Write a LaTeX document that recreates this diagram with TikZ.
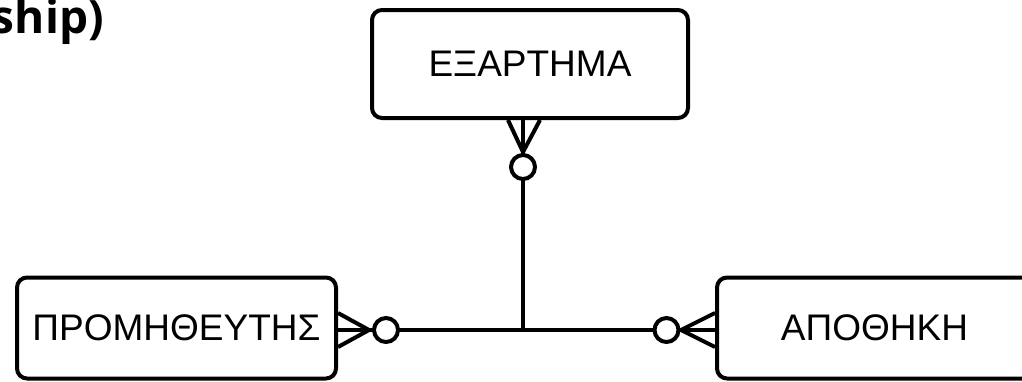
\documentclass[tikz,border=0pt]{standalone}
\usepackage{fontspec}
\setmainfont{Liberation Sans}
\newfontfamily\headfont{Open Sans}
\usetikzlibrary{calc}
\begin{document}
\begin{tikzpicture}[x=1pt,y=-1pt,
  entity/.style={draw,line width=4pt,rounded corners=10pt,inner sep=0pt,
    font=\fontsize{37}{40}\selectfont},
  conn/.style={line width=4pt},
  ring/.style={circle,draw,line width=4pt,fill=white,minimum size=24pt,inner sep=0pt}]
  \useasboundingbox (0,0) rectangle (1022,381);
  \clip (0,0) rectangle (1022,381);

  % title fragment
  \node[anchor=base east,inner sep=0pt,font=\headfont\bfseries\fontsize{46}{50}\selectfont]
    (title) at (104,33) {ship)};

  % entities
  \node[entity,minimum width=316pt,minimum height=108pt] (e) at (530,64) {ΕΞΑΡΤΗΜΑ};
  \node[entity,minimum width=319pt,minimum height=101pt] (p) at (176.5,328) {ΠΡΟΜΗΘΕΥΤΗΣ};
  \node[entity,minimum width=315pt,minimum height=101pt] (a) at (874.5,328) {ΑΠΟΘΗΚΗ};

  % junction of the ternary relationship
  \coordinate (j) at (523,330);
  \coordinate (eb) at (e.south -| j);
  \coordinate (pe) at (p.east |- j);
  \coordinate (aw) at (a.west |- j);

  % connector lines
  \draw[conn] (pe) -- (aw);
  \draw[conn] (eb) -- (j);

  % crow's feet (many)
  \draw[conn] ($(pe)+(0,-17)$) -- ($(pe)+(31,0)$) -- ($(pe)+(0,17)$);
  \draw[conn] ($(aw)+(0,-17)$) -- ($(aw)+(-34,0)$) -- ($(aw)+(0,17)$);
  \draw[conn] ($(eb)+(-15,0)$) -- ($(eb)+(0,32)$) -- ($(eb)+(17,0)$);

  % optional rings (zero)
  \node[ring] (rp) at ($(pe)+(48,0)$) {};
  \node[ring] (ra) at ($(aw)+(-48.5,0)$) {};
  \node[ring] (re) at ($(eb)+(0,47)$) {};
\end{tikzpicture}
\end{document}
